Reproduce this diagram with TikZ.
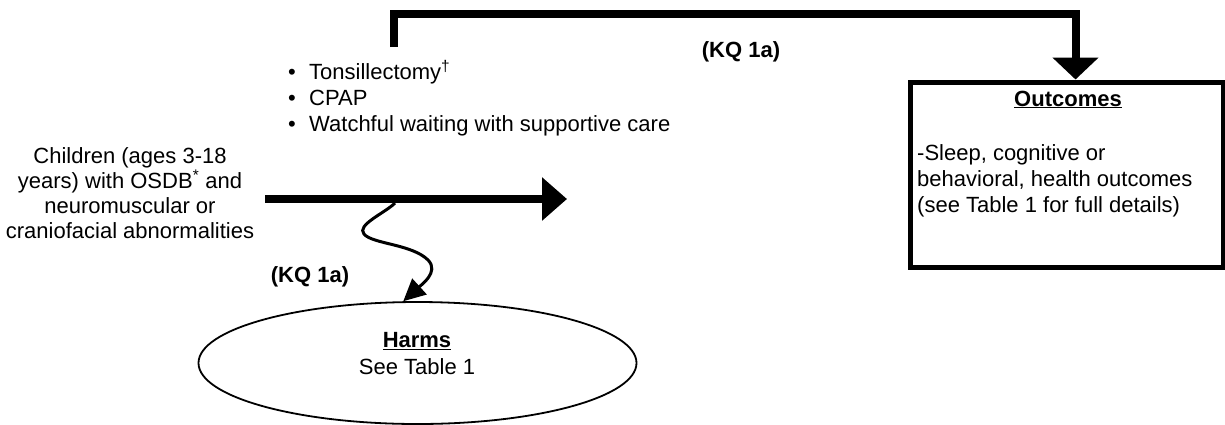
\documentclass[tikz,border=0pt]{standalone}
\usepackage{fontspec}
\setmainfont{Liberation Sans}
\usetikzlibrary{arrows.meta,shapes.geometric}
\begin{document}
\begin{tikzpicture}[x=1pt,y=-1pt,
  txt/.style={inner sep=0pt, font=\fontsize{22}{26}\selectfont},
  kq/.style={inner sep=0pt, font=\fontsize{22}{26}\selectfont\bfseries},
  heavy/.style={line width=8pt, line join=miter},
  bigtip/.style={-{Triangle[length=25pt,width=42pt]}},
  toptip/.style={-{Triangle[length=22pt,width=45pt]}},
  wavy/.style={line width=3pt, -{Triangle[length=22pt,width=21pt]}},
  outbox/.style={draw, line width=5pt, minimum width=313pt, minimum height=185pt, inner sep=0pt},
  harmshape/.style={draw, ellipse, line width=1.8pt, minimum width=438pt, minimum height=122pt, inner sep=0pt}
]
\useasboundingbox (0,0) rectangle (1225,424);

% population
\node[txt, font=\fontsize{22}{25}\selectfont, align=center] (children) at (130,193)
  {Children (ages 3-18\\years) with OSDB\textsuperscript{*} and\\neuromuscular or\\craniofacial abnormalities};

% interventions
\node[txt, align=left, anchor=west] (bullets) at (288,98)
  {\makebox[21pt][l]{•}Tonsillectomy\textsuperscript{†}\\
   \makebox[21pt][l]{•}CPAP\\
   \makebox[21pt][l]{•}Watchful waiting with supportive care};

% outcomes box
\node[outbox] (outcomes) at (1066.5,174.5) {};
\node[txt, font=\fontsize{22}{26}\selectfont\bfseries, anchor=base] (outtitle) at (1068,106) {\underline{Outcomes}};
\node[txt, align=left, anchor=west] (outbody) at (917,181)
  {-Sleep, cognitive or\\behavioral, health outcomes\\(see Table 1 for full details)};

% harms ellipse
\node[harmshape] (harms) at (417.5,363) {};
\node[txt, font=\fontsize{22}{27}\selectfont, align=center] (harmstext) at (417,353.5)
  {\underline{\textbf{Harms}}\\See Table 1};

% key question labels
\node[kq] (kqtop) at (741,52) {(KQ 1a)};
\node[kq] (kqlow) at (310,277) {(KQ 1a)};

% connector end points
\coordinate (mainstart) at (265,199);
\coordinate (mainend) at (567,199);
\coordinate (tstart) at (393.5,47);
\coordinate (tcorner) at (1075.5,13.5);
\coordinate (wstart) at (395,203);

% main arrow from the population
\draw[heavy, bigtip] (mainstart) -- (mainend);

% arrow from interventions to outcomes
\draw[heavy, toptip] (tstart) |- (tcorner) -- (tcorner |- outcomes.north);

% squiggly arrow to harms
\draw[wavy] (wstart) .. controls (385,213) and (356,225) .. (364,234)
  .. controls (372,244) and (412,244) .. (428,260)
  .. controls (440,272) and (420,286) .. (harms.103);
\end{tikzpicture}
\end{document}
